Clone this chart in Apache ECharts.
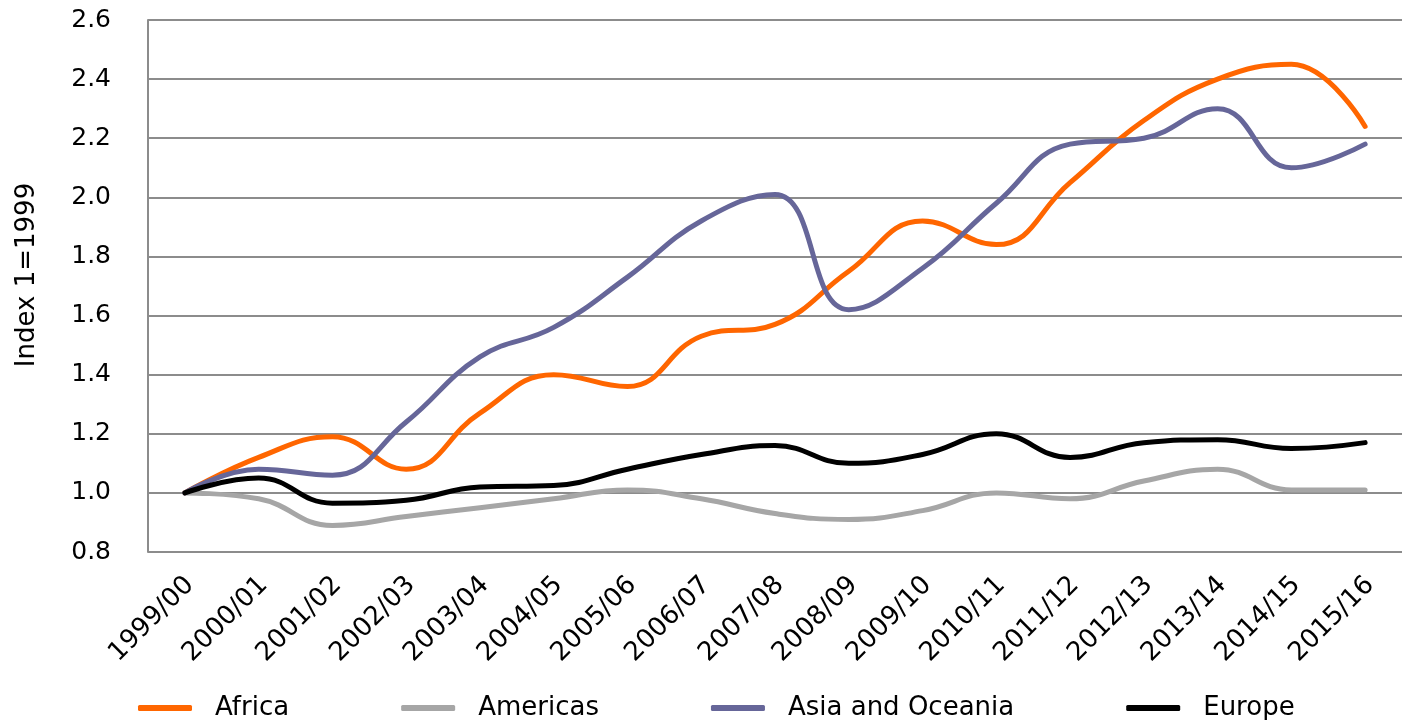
<!DOCTYPE html>
<html><head><meta charset="utf-8">
<script src="https://cdn.jsdelivr.net/npm/echarts@6/dist/echarts.min.js"></script>
<style>html,body{margin:0;padding:0;background:#fff}#c{width:1402px;height:720px}</style>
</head><body><div id="c"></div>
<script>
const categories = ['1999/00','2000/01','2001/02','2002/03','2003/04','2004/05','2005/06','2006/07','2007/08','2008/09','2009/10','2010/11','2011/12','2012/13','2013/14','2014/15','2015/16'];
const africa   = [1.00,1.12,1.19,1.08,1.27,1.40,1.36,1.53,1.57,1.75,1.92,1.84,2.05,2.26,2.40,2.45,2.24];
const americas = [1.00,0.98,0.89,0.92,0.95,0.98,1.01,0.98,0.93,0.91,0.94,1.00,0.98,1.04,1.08,1.01,1.01];
const asia     = [1.00,1.08,1.06,1.24,1.46,1.56,1.73,1.92,2.01,1.62,1.76,1.98,2.18,2.20,2.30,2.10,2.18];
const europe   = [1.00,1.05,0.965,0.975,1.02,1.025,1.08,1.13,1.16,1.10,1.13,1.20,1.12,1.17,1.18,1.15,1.17];
const yTicks = {min:0.8, max:2.6, interval:0.2};
const FONT = 'DejaVu Sans';
const chart = echarts.init(document.getElementById('c'), null, {renderer:'canvas'});
function s(name, data, color){
  return {name, type:'line', data, smooth:0.45, symbol:'none', lineStyle:{color, width:5, cap:'round'}, itemStyle:{color}, z:3};
}
chart.setOption({
  animation:false,
  backgroundColor:'#fff',
  textStyle:{fontFamily:FONT},
  grid:{left:148, top:20, width:1269, height:532, containLabel:false},
  legend:{
    left:133, top:690, itemWidth:54, itemHeight:6, itemGap:112, icon:'roundRect',
    textStyle:{fontFamily:FONT, fontSize:26, color:'#000', padding:[0,0,0,18]},
    data:['Africa','Americas','Asia and Oceania','Europe']
  },
  xAxis:{
    type:'category', data:categories, boundaryGap:true,
    axisLine:{show:false}, axisTick:{show:false},
    axisLabel:{rotate:45, fontSize:26, color:'#000', fontFamily:FONT, margin:34, interval:0, padding:[0,-7,0,0]}
  },
  yAxis:{
    type:'value', min:yTicks.min, max:yTicks.max, interval:yTicks.interval,
    name:'Index 1=1999', nameLocation:'middle', nameGap:108, nameRotate:90,
    nameTextStyle:{fontSize:26, color:'#000', fontFamily:FONT, padding:[0,0,0,22]},
    axisLine:{show:true, lineStyle:{color:'#8c8c8c', width:2}}, axisTick:{show:false},
    axisLabel:{fontSize:25, color:'#000', fontFamily:FONT, margin:37, formatter:v=>v.toFixed(1)},
    splitLine:{lineStyle:{color:'#8c8c8c', width:2}}
  },
  series:[
    s('Africa', africa, '#FF6600'),
    s('Americas', americas, '#A6A6A6'),
    s('Asia and Oceania', asia, '#666699'),
    s('Europe', europe, '#000000')
  ]
});
</script></body></html>
